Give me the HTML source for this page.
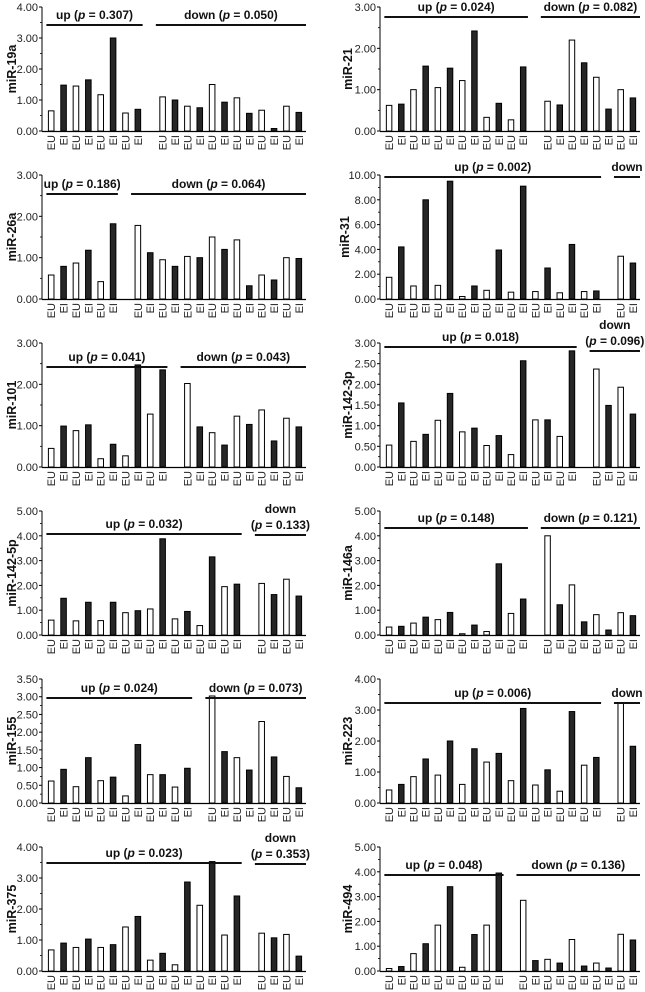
<!DOCTYPE html>
<html><head><meta charset="utf-8"><style>
html,body{margin:0;padding:0;background:#fff;}
svg{display:block;font-family:"Liberation Sans",Arial,sans-serif;}
</style></head><body>
<svg id="fig" width="645" height="992" viewBox="0 0 645 992" xmlns="http://www.w3.org/2000/svg"></svg>
<script>
// ---- data ----
const panelNames = ["miR-19a","miR-21","miR-26a","miR-31","miR-101","miR-142-3p","miR-142-5p","miR-146a","miR-155","miR-223","miR-375","miR-494"];
const mir19aUp = [0.65,1.48,1.45,1.65,1.17,3.0,0.58,0.7];
const mir19aDown = [1.1,1.0,0.8,0.75,1.5,0.93,1.07,0.57,0.67,0.08,0.8,0.6];
const mir21Up = [0.62,0.65,1.0,1.57,1.05,1.52,1.22,2.42,0.33,0.67,0.27,1.55];
const mir21Down = [0.72,0.63,2.2,1.65,1.3,0.53,1.0,0.8];
const mir26aUp = [0.58,0.79,0.87,1.18,0.42,1.82];
const mir26aDown = [1.78,1.12,0.95,0.79,1.03,1.0,1.5,1.2,1.43,0.32,0.58,0.46,1.0,0.98];
const mir31Up = [1.75,4.2,1.05,8.0,1.1,9.5,0.2,1.05,0.7,3.95,0.55,9.1,0.6,2.5,0.5,4.4,0.6,0.65];
const mir31Down = [3.45,2.9];
const mir101Up = [0.45,0.99,0.88,1.02,0.2,0.55,0.27,2.47,1.28,2.35];
const mir101Down = [2.02,0.97,0.83,0.53,1.23,1.03,1.38,0.63,1.18,0.97];
const mir1423pUp = [0.53,1.55,0.62,0.79,1.13,1.78,0.85,0.94,0.52,0.76,0.3,2.57,1.14,1.14,0.74,2.81];
const mir1423pDown = [2.37,1.49,1.93,1.28];
const mir1425pUp = [0.6,1.48,0.57,1.32,0.58,1.32,0.9,0.98,1.05,3.88,0.65,0.95,0.38,3.15,1.95,2.05];
const mir1425pDown = [2.08,1.63,2.25,1.57];
const mir146aUp = [0.32,0.35,0.48,0.72,0.62,0.91,0.05,0.4,0.14,2.87,0.87,1.45];
const mir146aDown = [4.0,1.22,2.02,0.53,0.82,0.2,0.9,0.78];
const mir155Up = [0.62,0.95,0.46,1.28,0.63,0.73,0.2,1.65,0.8,0.8,0.45,0.98];
const mir155Down = [3.02,1.45,1.28,0.93,2.3,1.3,0.75,0.43];
const mir223Up = [0.42,0.6,0.85,1.42,0.9,2.0,0.6,1.75,1.32,1.6,0.72,3.05,0.58,1.07,0.38,2.95,1.22,1.47];
const mir223Down = [3.22,1.83];
const mir375Up = [0.68,0.9,0.76,1.03,0.76,0.85,1.42,1.76,0.35,0.57,0.2,2.87,2.12,3.53,1.16,2.42];
const mir375Down = [1.22,1.07,1.18,0.48];
const mir494Up = [0.1,0.18,0.7,1.1,1.85,3.4,0.15,1.47,1.85,3.95];
const mir494Down = [2.85,0.42,0.47,0.32,1.27,0.2,0.32,0.12,1.48,1.25];
const upValues = [mir19aUp,mir21Up,mir26aUp,mir31Up,mir101Up,mir1423pUp,mir1425pUp,mir146aUp,mir155Up,mir223Up,mir375Up,mir494Up];
const downValues = [mir19aDown,mir21Down,mir26aDown,mir31Down,mir101Down,mir1423pDown,mir1425pDown,mir146aDown,mir155Down,mir223Down,mir375Down,mir494Down];
const yMax = [4,3,3,10,3,3,5,5,3.5,4,4,5];
const yStep = [1,1,1,2,1,0.5,1,1,0.5,1,1,1];
const upP = ["0.307","0.024","0.186","0.002","0.041","0.018","0.032","0.148","0.024","0.006","0.023","0.048"];
const downP = ["0.050","0.082","0.064","","0.043","0.096","0.133","0.121","0.073","","0.353","0.136"];
const categories = ["EU","EI"];
// label layout (0 = single line, 1 = two-line "down", 2 = "down" only)
const downStyle = [0,0,0,2,0,1,1,0,0,2,1,0];
const upLineY = [25,17,194,177,367,347,534,528,698,703,863,875];
const downLineY = [25,17,194,177,367,351,535,528,698,703,864,875];

const svg = document.getElementById('fig');
const NS = 'http://www.w3.org/2000/svg';
function mk(tag, attrs, parent){
  const e = document.createElementNS(NS, tag);
  for (const k in attrs) e.setAttribute(k, attrs[k]);
  (parent||svg).appendChild(e);
  return e;
}

panelNames.forEach((name, i) => {
  const col = i % 2, row = Math.floor(i / 2);
  const axisX = col === 0 ? 42 : 380;
  const endX = col === 0 ? 306 : 640;
  const top = 7 + row * 168;
  const zero = top + 124;
  const g = mk('g', {});
  
  
  const yScale = v => zero - v / yMax[i] * (zero - top);
  const up = upValues[i], down = downValues[i];
  const slots = up.length + down.length + 1;
  const pitch = (endX - axisX - 4) / slots;
  const bw = Math.max(4, pitch * 0.45);
  const xSlot = s => axisX + 3 + s * pitch + (pitch - bw) / 2;

  const ya = mk('line', {x1:axisX, y1:top, x2:axisX, y2:zero, stroke:'#000', 'stroke-width':1}, g);
  
  
  const xa = mk('line', {x1:axisX, y1:zero+0.5, x2:endX, y2:zero+0.5, stroke:'#000', 'stroke-width':1.2}, g);
  
  

  const nT = Math.round(yMax[i] / yStep[i]);
  for (let t = 0; t <= nT; t++) {
    const v = t * yStep[i], y = yScale(v);
    mk('line', {x1:axisX-3, y1:y, x2:axisX, y2:y, stroke:'#000', 'stroke-width':1}, g);
    if (t < nT) { const ym = yScale(v + yStep[i]/2); mk('line', {x1:axisX-2, y1:ym, x2:axisX, y2:ym, stroke:'#000', 'stroke-width':0.8}, g); }
    const tl = mk('text', {x:axisX-4, y:y+4, 'text-anchor':'end', 'font-size':11, fill:'#222'}, g);
    tl.textContent = v.toFixed(2);
    
    
  }
  const tx = col === 0 ? 16 : (i === 3 ? 349 : 352);
  const yt = mk('text', {x:0, y:0, transform:`translate(${tx},${(top+zero)/2}) rotate(-90)`, 'text-anchor':'middle', 'font-size':12.5, 'font-weight':'bold', fill:'#111'}, g);
  yt.textContent = name;
  
  

  const all = up.map((v,k)=>({v,s:k})).concat(down.map((v,k)=>({v,s:up.length+1+k})));
  all.forEach((b) => {
    const isEU = (b.s < up.length ? b.s : b.s - up.length - 1) % 2 === 0;
    const x = xSlot(b.s), y = yScale(b.v);
    const r = mk('rect', {x:x, y:y, width:bw, height:Math.max(0.5, zero - y), fill:isEU?'#fff':'#262626', stroke:'#000', 'stroke-width':1}, g);
    
    
    const cx = x + bw/2;
    const lbl = mk('text', {x:0, y:0, transform:`translate(${cx+4},${zero+4}) rotate(-90)`, 'text-anchor':'end', 'font-size':11, fill:'#222'}, g);
    lbl.textContent = categories[isEU?0:1];
    
    
  });

  const ux1 = xSlot(0) - 2, ux2 = xSlot(up.length - 1) + bw + 2;
  const dx1 = xSlot(up.length + 1) - 4, dx2 = endX;
  const ul = mk('line', {x1:ux1, y1:upLineY[i], x2:ux2, y2:upLineY[i], stroke:'#111', 'stroke-width':2}, g);
  
  
  const ut = mk('text', {x:(ux1+ux2)/2, y:upLineY[i]-6, 'text-anchor':'middle', 'font-size':12, 'font-weight':'bold', fill:'#111'}, g);
  ut.innerHTML = `up (<tspan font-style="italic">p</tspan> = ${upP[i]})`;
  
  
  const dl = mk('line', {x1:dx1, y1:downLineY[i], x2:dx2, y2:downLineY[i], stroke:'#111', 'stroke-width':2}, g);
  
  
  const dcx = (dx1 + dx2) / 2;
  const dt = mk('text', {x:dcx, y:downLineY[i]-6, 'text-anchor':'middle', 'font-size':12, 'font-weight':'bold', fill:'#111'}, g);
  
  
  if (downStyle[i] === 0) {
    dt.innerHTML = `down (<tspan font-style="italic">p</tspan> = ${downP[i]})`;
  } else if (downStyle[i] === 2) {
    dt.textContent = 'down';
  } else {
    dt.innerHTML = `(<tspan font-style="italic">p</tspan> = ${downP[i]})`;
    const d2 = mk('text', {x:dcx, y:downLineY[i]-22, 'text-anchor':'middle', 'font-size':12, 'font-weight':'bold', fill:'#111'}, g);
    d2.textContent = 'down';
    
    
  }
});
</script>
</body></html>
